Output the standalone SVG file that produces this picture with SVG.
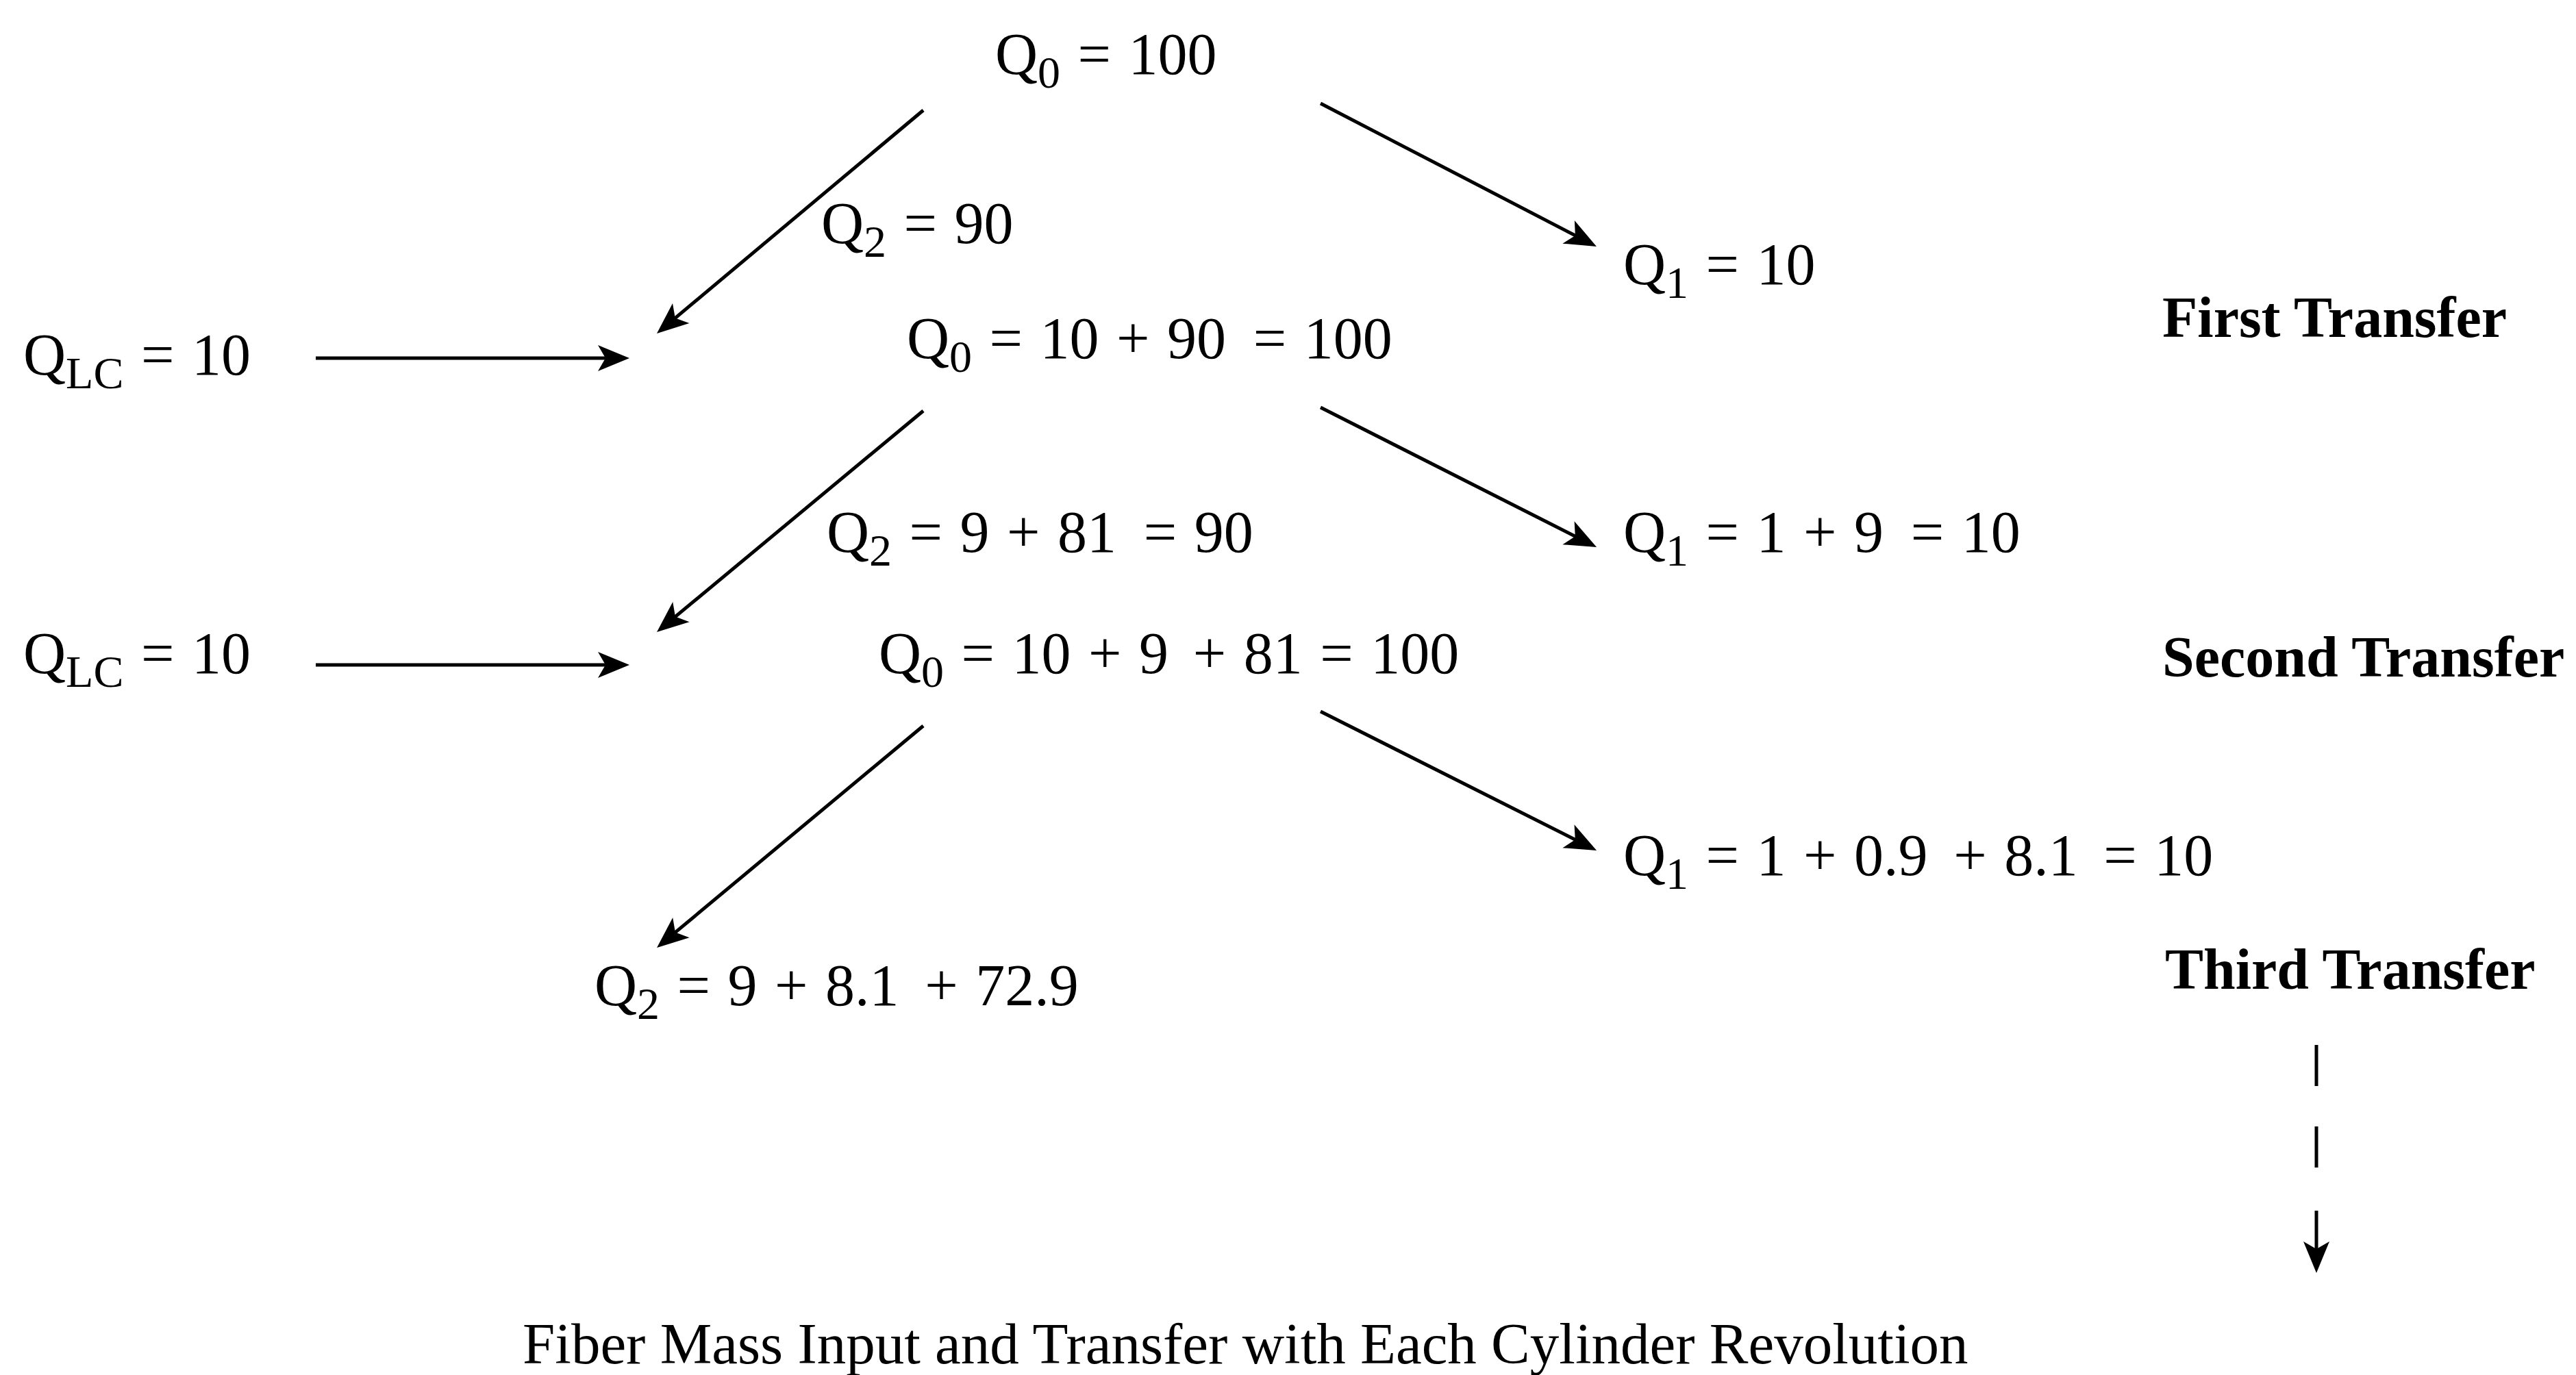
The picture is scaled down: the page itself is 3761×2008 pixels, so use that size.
<svg xmlns="http://www.w3.org/2000/svg" width="3761" height="2008" viewBox="0 0 3761 2008">
<style>
text{font-family:"Liberation Serif","Times New Roman",serif;font-size:86px;fill:#000;white-space:pre}
.eq{word-spacing:4px}
.sub{font-size:66px}
.b{font-weight:bold;font-size:84px}
.cap{font-size:85px}
.c{stroke:#000;stroke-width:5;fill:none}
</style>
<defs>
<marker id="ah" markerUnits="userSpaceOnUse" viewBox="-50 -25 60 50" markerWidth="60" markerHeight="50" refX="-20" refY="0" orient="auto">
<path d="M0,0 L-46,-19 L-35,0 L-46,19 Z" fill="#000"/>
</marker>
</defs>
<rect width="3761" height="2008" fill="#fff"/>
<g id="connectors">
<line class="c" x1="1348" y1="161" x2="974.3" y2="474.2" marker-end="url(#ah)"/>
<line class="c" x1="1928" y1="151" x2="2313.2" y2="350.8" marker-end="url(#ah)"/>
<line class="c" x1="461" y1="523" x2="899" y2="523" marker-end="url(#ah)"/>
<line class="c" x1="1348" y1="600" x2="974.4" y2="910.2" marker-end="url(#ah)"/>
<line class="c" x1="1928" y1="595" x2="2313.2" y2="790" marker-end="url(#ah)"/>
<line class="c" x1="461" y1="971" x2="899" y2="971" marker-end="url(#ah)"/>
<line class="c" x1="1348" y1="1060" x2="974.4" y2="1371.2" marker-end="url(#ah)"/>
<line class="c" x1="1928" y1="1039" x2="2313.2" y2="1233" marker-end="url(#ah)"/>
<path class="c" d="M3382,1526 V1586 M3382,1645 V1705 M3382,1768 V1839" marker-end="url(#ah)"/>
</g>
<g id="n-q0-top"><text class="eq" x="1453" y="108">Q<tspan class="sub" dy="20">0</tspan><tspan dy="-20"> = 100</tspan></text></g>
<g id="n-q2-1"><text class="eq" x="1199" y="355">Q<tspan class="sub" dy="20">2</tspan><tspan dy="-20"> = 90</tspan></text></g>
<g id="n-q1-1"><text class="eq" x="2370" y="415">Q<tspan class="sub" dy="20">1</tspan><tspan dy="-20"> = 10</tspan></text></g>
<g id="n-first"><text class="b" x="3157" y="492">First Transfer</text></g>
<g id="n-qlc-1"><text class="eq" x="34" y="547">Q<tspan class="sub" dy="20">LC</tspan><tspan dy="-20"> = 10</tspan></text></g>
<g id="n-q0-1"><text class="eq" x="1324" y="523">Q<tspan class="sub" dy="20">0</tspan><tspan dy="-20"> = 10 + 90</tspan><tspan dx="14"> = 100</tspan></text></g>
<g id="n-q2-2"><text class="eq" x="1207" y="806">Q<tspan class="sub" dy="20">2</tspan><tspan dy="-20"> = 9 + 81</tspan><tspan dx="14"> = 90</tspan></text></g>
<g id="n-q1-2"><text class="eq" x="2370" y="806">Q<tspan class="sub" dy="20">1</tspan><tspan dy="-20"> = 1 + 9</tspan><tspan dx="14"> = 10</tspan></text></g>
<g id="n-qlc-2"><text class="eq" x="34" y="983">Q<tspan class="sub" dy="20">LC</tspan><tspan dy="-20"> = 10</tspan></text></g>
<g id="n-q0-2"><text class="eq" x="1283" y="983">Q<tspan class="sub" dy="20">0</tspan><tspan dy="-20"> = 10 + 9</tspan><tspan dx="10"> + 81 = 100</tspan></text></g>
<g id="n-second"><text class="b" x="3157" y="988">Second Transfer</text></g>
<g id="n-q1-3"><text class="eq" x="2370" y="1278">Q<tspan class="sub" dy="20">1</tspan><tspan dy="-20"> = 1 + 0.9</tspan><tspan dx="12"> + 8.1</tspan><tspan dx="12"> = 10</tspan></text></g>
<g id="n-q2-3"><text class="eq" x="868" y="1468">Q<tspan class="sub" dy="20">2</tspan><tspan dy="-20"> = 9 + 8.1</tspan><tspan dx="12"> + 72.9</tspan></text></g>
<g id="n-third"><text class="b" x="3161" y="1444">Third Transfer</text></g>
<g id="caption"><text class="cap" x="763" y="1991">Fiber Mass Input and Transfer with Each Cylinder Revolution</text></g>
</svg>
